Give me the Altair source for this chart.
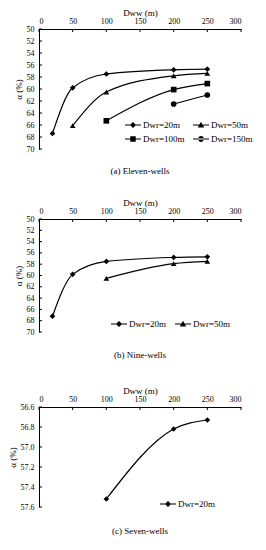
import altair as alt
import pandas as pd

FONT = "Liberation Serif"
x_ticks = [0, 50, 100, 150, 200, 250, 300]
names = ["Dwr=20m", "Dwr=50m", "Dwr=100m", "Dwr=150m"]
shapes = ["diamond", "triangle-up", "square", "circle"]
# legend glyphs: short line segment with marker (unit coordinates, all filled)
BAR = "M-1,-0.075H1V0.075H-1Z"
legend_glyphs = [
    BAR + "M0,-0.38L0.38,0L0,0.38L-0.38,0Z",
    BAR + "M0,-0.42L0.4,0.3L-0.4,0.3Z",
    BAR + "M-0.34,-0.34H0.34V0.34H-0.34Z",
    BAR + "M-0.36,0A0.36,0.36,0,1,0,0.36,0A0.36,0.36,0,1,0,-0.36,0Z",
]

# (a) Eleven-wells
a20_x = [20, 50, 100, 200, 250]
a20_y = [67.4, 59.8, 57.5, 56.8, 56.7]
a50_x = [50, 100, 200, 250]
a50_y = [66.1, 60.5, 57.8, 57.4]
a100_x = [100, 200, 250]
a100_y = [65.3, 60.1, 59.1]
a150_x = [200, 250]
a150_y = [62.5, 61.0]

# (b) Nine-wells
b20_x = [20, 50, 100, 200, 250]
b20_y = [67.2, 59.8, 57.5, 56.8, 56.7]
b50_x = [100, 200, 250]
b50_y = [60.5, 57.9, 57.5]

# (c) Seven-wells
c20_x = [100, 200, 250]
c20_y = [57.52, 56.82, 56.73]

ab_y_ticks = [50, 52, 54, 56, 58, 60, 62, 64, 66, 68, 70]
c_y_ticks = [56.6, 56.8, 57.0, 57.2, 57.4, 57.6]


def frame(series):
    rows = []
    for name, xs, ys in series:
        for xv, yv in zip(xs, ys):
            rows.append({"series": name, "D": xv, "a": yv})
    return pd.DataFrame(rows)


def panel(df, used, ydom, yticks, yfmt, caption, cap_off, w, h, legend):
    base = alt.Chart(df)
    xscale = alt.Scale(domain=[0, 300], nice=False)
    yscale = alt.Scale(domain=ydom, reverse=True, nice=False, zero=False)
    xenc = alt.X("D:Q", scale=xscale,
                 axis=alt.Axis(orient="top", values=x_ticks, title="Dww (m)",
                               titlePadding=0, labelPadding=4, ticks=False,
                               labelOverlap=False))
    yenc = alt.Y("a:Q", scale=yscale,
                 axis=alt.Axis(values=yticks, format=yfmt, title="α (%)",
                               titlePadding=3, labelPadding=5, ticks=False,
                               labelOverlap=False))
    sel_shapes = [shapes[names.index(n)] for n in used]
    sel_glyphs = [legend_glyphs[names.index(n)] for n in used]
    line = base.mark_line(interpolate="monotone", color="black", strokeWidth=1.2).encode(
        x=xenc, y=yenc, detail="series:N")
    pts = base.mark_point(filled=True, color="black", opacity=1, size=32).encode(
        x=xenc, y=yenc,
        shape=alt.Shape("series:N", scale=alt.Scale(domain=used, range=sel_shapes),
                        legend=None))
    hidden = base.mark_point(filled=True, color="black", opacity=0, size=256).encode(
        x=xenc, y=yenc,
        shape=alt.Shape("series:N", scale=alt.Scale(domain=used, range=sel_glyphs),
                        legend=legend))
    ytk = alt.Chart(pd.DataFrame({"a": yticks})).mark_rule(
        color="black", strokeWidth=1).encode(y=yenc, x=alt.value(0), x2=alt.value(3))
    xtk = alt.Chart(pd.DataFrame({"D": x_ticks})).mark_rule(
        color="black", strokeWidth=1).encode(x=xenc, y=alt.value(0), y2=alt.value(3))
    return alt.layer(line, pts, hidden, ytk, xtk).resolve_scale(
        shape="independent").properties(
        width=w, height=h,
        title=alt.TitleParams(caption, orient="bottom", fontSize=9, font=FONT,
                              fontWeight="normal", offset=cap_off))


leg_common = dict(orient="none", direction="horizontal", title=None,
                  labelFont=FONT, labelFontSize=9, symbolSize=256,
                  symbolFillColor="black", symbolStrokeWidth=0, symbolOpacity=1,
                  rowPadding=1, padding=0, labelOffset=2, columnPadding=8)

pa = panel(frame([("Dwr=20m", a20_x, a20_y), ("Dwr=50m", a50_x, a50_y),
                  ("Dwr=100m", a100_x, a100_y), ("Dwr=150m", a150_x, a150_y)]),
           names, [50, 70], ab_y_ticks, "d", "(a) Eleven-wells", 14, 202, 120,
           alt.Legend(columns=2, legendX=86, legendY=88, **leg_common))
pb = panel(frame([("Dwr=20m", b20_x, b20_y), ("Dwr=50m", b50_x, b50_y)]),
           names[:2], [50, 70], ab_y_ticks, "d", "(b) Nine-wells", 15, 202, 113,
           alt.Legend(columns=2, legendX=72, legendY=97, **leg_common))
pc = panel(frame([("Dwr=20m", c20_x, c20_y)]),
           names[:1], [56.6, 57.6], c_y_ticks, ".1f", "(c) Seven-wells", 16, 202, 100,
           alt.Legend(columns=1, legendX=121, legendY=89, **leg_common))

chart = alt.vconcat(pa, alt.vconcat(pb, pc, spacing=26), spacing=22).properties(
    padding={"left": 0, "top": 0, "right": 0, "bottom": 0}
).configure_view(stroke=None).configure_axis(
    labelFont=FONT, titleFont=FONT, labelFontSize=8, titleFontSize=9,
    titleFontWeight="normal", domainColor="black", domainWidth=1,
    labelColor="black", titleColor="black", grid=False)

chart.save("out.html", embed_options={"renderer": "svg", "actions": False})
